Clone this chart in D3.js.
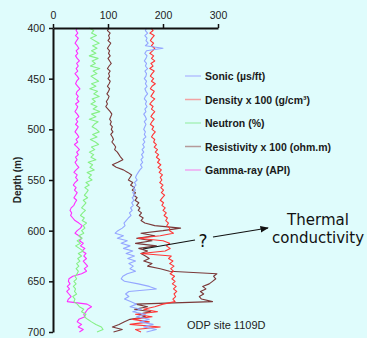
<!DOCTYPE html>
<html>
<head>
<meta charset="utf-8">
<script src="https://cdn.jsdelivr.net/npm/d3@7"></script>
<style>
  html, body { margin: 0; padding: 0; background: #dffcfc; }
  svg { display: block; }
</style>
</head>
<body>
<div id="chart"></div>
<script>
// depth samples (m), every 2.5 m
var depths = [
  400,402.5,405,407.5,410,412.5,415,417.5,420,422.5,
  425,427.5,430,432.5,435,437.5,440,442.5,445,447.5,
  450,452.5,455,457.5,460,462.5,465,467.5,470,472.5,
  475,477.5,480,482.5,485,487.5,490,492.5,495,497.5,
  500,502.5,505,507.5,510,512.5,515,517.5,520,522.5,
  525,527.5,530,532.5,535,537.5,540,542.5,545,547.5,
  550,552.5,555,557.5,560,562.5,565,567.5,570,572.5,
  575,577.5,580,582.5,585,587.5,590,592.5,595,597.5,
  600,602.5,605,607.5,610,612.5,615,617.5,620,622.5,
  625,627.5,630,632.5,635,637.5,640,642.5,645,647.5,
  650,652.5,655,657.5,660,662.5,665,667.5,670,672.5,
  675,677.5,680,682.5,685,687.5,690,692.5,695,697.5,
  700
];

var sonic = [
  170,168,172,167,171,169,173,168,200,170,
  167,171,169,166,170,168,172,167,170,169,
  166,170,168,171,167,169,172,168,166,170,
  168,171,167,169,165,168,170,166,169,167,
  165,168,166,169,164,167,163,166,162,165,
  161,164,160,163,159,162,158,155,152,150,
  153,148,151,146,150,145,149,144,147,143,
  146,141,144,139,142,137,133,129,131,126,
  118,113,128,117,135,124,140,128,145,133,
  148,136,150,138,146,140,150,135,127,124,
  130,155,175,188,138,132,138,130,141,152,
  140,160,145,168,152,175,158,182,165,188,
  170
];

var density = [
  178,182,176,184,180,177,183,179,185,181,
  176,183,179,185,178,182,176,184,180,177,
  183,179,186,180,177,184,181,178,185,180,
  176,182,179,185,181,178,184,180,177,183,
  180,186,182,179,185,183,188,184,190,186,
  192,188,194,190,196,191,197,193,199,195,
  198,194,200,196,201,197,203,199,195,201,
  198,204,200,206,202,208,205,210,207,212,
  212,219,195,155,200,212,206,213,204,160,
  215,210,218,212,220,214,219,213,221,216,
  222,217,224,219,225,220,223,218,222,200,
  185,165,190,150,180,145,175,140,195,150,
  160
];

var neutron = [
  66,74,70,79,68,76,84,72,80,70,
  78,66,82,71,77,68,85,73,80,69,
  76,83,70,78,67,81,74,84,71,77,
  69,80,73,85,70,78,66,82,75,71,
  79,84,72,80,68,77,83,70,76,66,
  74,69,78,64,72,67,75,62,70,65,
  71,60,66,58,64,61,57,63,55,60,
  56,52,59,54,50,57,53,61,55,58,
  52,56,47,53,44,50,41,48,55,46,
  52,45,49,43,47,42,46,44,40,43,
  38,42,37,41,39,43,36,40,38,44,
  48,56,52,60,57,63,70,78,88,91,
  80
];

var resistivity = [
  102,99,104,101,103,100,105,102,99,103,
  101,104,100,103,106,102,99,104,101,103,
  100,104,102,99,103,101,98,102,100,97,
  99,96,100,104,107,105,103,106,104,108,
  106,109,105,108,110,107,111,114,112,117,
  120,123,127,118,108,115,128,136,143,140,
  137,145,141,148,144,150,147,153,149,156,
  152,158,155,161,157,164,160,167,185,232,
  200,160,185,152,180,150,188,156,172,160,
  168,175,165,180,172,195,212,298,292,296,
  290,284,272,278,268,274,266,270,290,150,
  172,148,178,155,168,140,130,120,108,126,
  110
];

var gamma = [
  44,42,45,41,46,43,40,44,47,42,
  45,41,44,48,43,46,42,45,40,44,
  47,43,41,45,49,44,42,46,43,47,
  41,45,43,40,44,47,42,45,41,46,
  43,40,44,47,42,45,39,44,48,43,
  46,41,44,40,43,47,42,38,44,41,
  45,40,37,42,39,44,41,38,43,40,
  38,33,31,34,32,36,40,47,53,50,
  44,40,47,52,48,55,50,58,53,60,
  56,61,55,59,63,57,61,52,36,29,
  28,31,26,30,25,29,33,28,26,62,
  70,63,60,56,58,47,44,52,46,55,
  48
];

var xTicks = [0, 100, 200, 300];
var yTicks = [400, 450, 500, 550, 600, 650, 700];

var series = [
  { name: "Sonic (\u00b5s/ft)", values: sonic, color: "#94a6ff", key: "#b4c2ff" },
  { name: "Density x 100 (g/cm\u00b3)", values: density, color: "#ff3636", key: "#f2a2a2" },
  { name: "Neutron (%)", values: neutron, color: "#86f086", key: "#aaf2bc" },
  { name: "Resistivity x 100 (ohm.m)", values: resistivity, color: "#7a3838", key: "#b49a9a" },
  { name: "Gamma-ray (API)", values: gamma, color: "#ff2cff", key: "#f0a6f0" }
];

var sans = "Arial, 'Liberation Sans', Helvetica, sans-serif";
var width = 367, height = 338;

var svg = d3.select("#chart")
  .append("svg")
  .attr("width", width)
  .attr("height", height);

var x = d3.scaleLinear().domain([0, 300]).range([53, 218]);
var y = d3.scaleLinear().domain([400, 700]).range([28, 332]);

// curves (drawn in reverse so gamma sits under)
var line = d3.line()
  .x(function (d) { return x(d[1]); })
  .y(function (d) { return y(d[0]); });

series.slice().reverse().forEach(function (s) {
  svg.append("path")
    .datum(depths.map(function (d, i) { return [d, s.values[i]]; }))
    .attr("fill", "none")
    .attr("stroke", s.color)
    .attr("stroke-width", 1.1)
    .attr("stroke-linejoin", "round")
    .attr("d", line);
});

// top axis
var gx = svg.append("g")
  .attr("transform", "translate(0," + y(400) + ")")
  .call(d3.axisTop(x).tickValues(xTicks).tickSize(4).tickSizeOuter(0).tickPadding(5));
gx.select(".domain").attr("stroke", "#111").attr("stroke-width", 2);

// left axis
var gy = svg.append("g")
  .attr("transform", "translate(" + x(0) + ",0)")
  .call(d3.axisLeft(y).tickValues(yTicks).tickSize(4).tickSizeOuter(0).tickPadding(4));
gy.select(".domain").attr("stroke", "#111").attr("stroke-width", 2);

svg.selectAll(".tick line").attr("stroke", "#111").attr("stroke-width", 1.5);
svg.selectAll(".tick text")
  .attr("fill", "#222")
  .style("font-family", sans)
  .style("font-size", "10.5px");

svg.append("text")
  .attr("transform", "translate(21," + y(550) + ") rotate(-90)")
  .attr("text-anchor", "middle")
  .style("font-family", sans)
  .style("font-size", "10px")
  .style("font-weight", "bold")
  .attr("fill", "#222")
  .text("Depth (m)");

// legend
var legend = svg.append("g");
series.forEach(function (s, i) {
  var ly = 76 + i * 23.5;
  legend.append("line")
    .attr("x1", 185).attr("x2", 201)
    .attr("y1", ly).attr("y2", ly)
    .attr("stroke", s.key)
    .attr("stroke-width", 1.5);
  legend.append("text")
    .attr("x", 205)
    .attr("y", ly + 4)
    .style("font-family", sans)
    .style("font-size", "10.5px")
    .style("font-weight", "bold")
    .attr("fill", "#1a1a1a")
    .text(s.name);
});

// annotation
svg.append("defs").append("marker")
  .attr("id", "arrow")
  .attr("viewBox", "0 0 10 10")
  .attr("refX", 9).attr("refY", 5)
  .attr("markerWidth", 7).attr("markerHeight", 7)
  .attr("orient", "auto")
  .append("path")
  .attr("d", "M0,1 L10,5 L0,9 Z")
  .attr("fill", "#111");

svg.append("line")
  .attr("x1", 143).attr("y1", 249)
  .attr("x2", 195).attr("y2", 240)
  .attr("stroke", "#111").attr("stroke-width", 1.2);

svg.append("line")
  .attr("x1", 213).attr("y1", 237)
  .attr("x2", 268).attr("y2", 228)
  .attr("stroke", "#111").attr("stroke-width", 1.2)
  .attr("marker-end", "url(#arrow)");

var hand = "'DejaVu Sans', sans-serif";
svg.append("text")
  .attr("x", 203).attr("y", 247)
  .attr("text-anchor", "middle")
  .style("font-family", hand).style("font-size", "17px")
  .attr("fill", "#111")
  .text("?");

svg.append("text")
  .attr("x", 318).attr("y", 225)
  .attr("text-anchor", "middle")
  .style("font-family", hand).style("font-size", "15px")
  .attr("fill", "#111")
  .text("Thermal");
svg.append("text")
  .attr("x", 318).attr("y", 243)
  .attr("text-anchor", "middle")
  .style("font-family", hand).style("font-size", "15px")
  .attr("fill", "#111")
  .text("conductivity");

svg.append("text")
  .attr("x", 187).attr("y", 329)
  .style("font-family", sans)
  .style("font-size", "11px")
  .attr("fill", "#222")
  .text("ODP site 1109D");
</script>
</body>
</html>
